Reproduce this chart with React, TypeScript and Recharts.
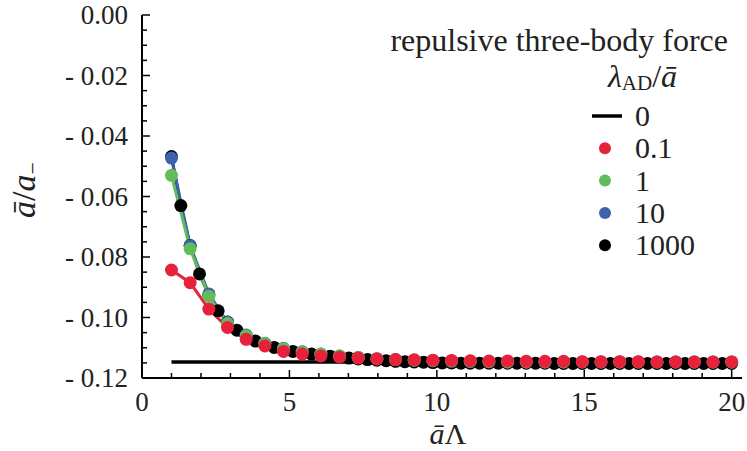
import { LineChart, Line, XAxis, YAxis } from 'recharts';

// grid of \bar a \Lambda values used by the coloured curves
const xCoarse = [
  1, 1.633, 2.267, 2.9, 3.533, 4.167, 4.8, 5.433, 6.067, 6.7, 7.333, 7.967, 8.6, 9.233, 9.867,
  10.5, 11.133, 11.767, 12.4, 13.033, 13.667, 14.3, 14.933, 15.567, 16.2, 16.833, 17.467, 18.1,
  18.733, 19.367, 20,
];

// finer grid used by the lambda = 1000 curve
const xFine = [
  1, 1.317, 1.633, 1.95, 2.267, 2.583, 2.9, 3.217, 3.533, 3.85, 4.167, 4.483, 4.8, 5.117, 5.433,
  5.75, 6.067, 6.383, 6.7, 7.017, 7.333, 7.65, 7.967, 8.283, 8.6, 8.917, 9.233, 9.55, 9.867,
  10.183, 10.5, 10.817, 11.133, 11.45, 11.767, 12.083, 12.4, 12.717, 13.033, 13.35, 13.667,
  13.983, 14.3, 14.617, 14.933, 15.25, 15.567, 15.883, 16.2, 16.517, 16.833, 17.15, 17.467,
  17.783, 18.1, 18.417, 18.733, 19.05, 19.367, 19.683, 20,
];

// lambda_AD / abar = 0.1
const yRed = [
  -0.0843, -0.0885, -0.0972, -0.1033, -0.1072, -0.1094, -0.1112, -0.1121, -0.1127, -0.1131,
  -0.1134, -0.1137, -0.1139, -0.114, -0.1141, -0.1142, -0.1143, -0.1144, -0.1144, -0.1145,
  -0.1145, -0.1145, -0.1146, -0.1146, -0.1146, -0.1146, -0.1147, -0.1147, -0.1147, -0.1147,
  -0.1147,
];

// lambda_AD / abar = 1
const yGreen = [
  -0.053, -0.0773, -0.093, -0.102, -0.106, -0.1086, -0.1103, -0.1114, -0.1121, -0.1127, -0.1132,
  -0.1136, -0.1139, -0.1141, -0.1143, -0.1144, -0.1145, -0.1146, -0.1147, -0.1147, -0.1147,
  -0.1147, -0.1147, -0.1147, -0.1147, -0.1147, -0.1147, -0.1147, -0.1147, -0.1147, -0.1147,
];

// lambda_AD / abar = 10
const yBlue = [
  -0.0473, -0.0763, -0.0922, -0.1016, -0.1058, -0.1085, -0.1102, -0.1113, -0.1121, -0.1127,
  -0.1132, -0.1136, -0.1139, -0.1141, -0.1143, -0.1144, -0.1145, -0.1146, -0.1147, -0.1147,
  -0.1147, -0.1147, -0.1147, -0.1147, -0.1147, -0.1147, -0.1147, -0.1147, -0.1147, -0.1147,
  -0.1147,
];

// lambda_AD / abar = 1000
const yBlack = [
  -0.0468, -0.063, -0.0762, -0.0856, -0.0925, -0.0978, -0.1015, -0.1042, -0.1062, -0.1078,
  -0.109, -0.1099, -0.1106, -0.1112, -0.1117, -0.1121, -0.1125, -0.1128, -0.1131, -0.1134,
  -0.1137, -0.1139, -0.1141, -0.1143, -0.1145, -0.1146, -0.1147, -0.1148, -0.1149, -0.115,
  -0.115, -0.1151, -0.1151, -0.1151, -0.1151, -0.1151, -0.1151, -0.1151, -0.1151, -0.1151,
  -0.1151, -0.1152, -0.1152, -0.1152, -0.1152, -0.1152, -0.1152, -0.1152, -0.1152, -0.1152,
  -0.1152, -0.1152, -0.1152, -0.1152, -0.1152, -0.1152, -0.1152, -0.1152, -0.1152, -0.1152,
  -0.1152,
];

// lambda_AD / abar = 0 (no three-body force)
const xZero = [1, 20];
const yZero = [-0.1147, -0.1147];

const xTicks = [0, 1, 2, 3, 4, 5, 6, 7, 8, 9, 10, 11, 12, 13, 14, 15, 16, 17, 18, 19, 20];
const xMajor = [0, 5, 10, 15, 20];
const yTicks = [
  0, -0.005, -0.01, -0.015, -0.02, -0.025, -0.03, -0.035, -0.04, -0.045, -0.05, -0.055, -0.06,
  -0.065, -0.07, -0.075, -0.08, -0.085, -0.09, -0.095, -0.1, -0.105, -0.11, -0.115, -0.12,
];
const yMajor = [0, -0.02, -0.04, -0.06, -0.08, -0.1, -0.12];

const RED = '#e8213b';
const GREEN = '#62bc5a';
const BLUE = '#3d62ae';
const BLACK = '#000000';
const FONT = 'Liberation Serif';
const serif = { fontFamily: FONT };

const toPoints = (xs: number[], ys: number[]) => xs.map((x, i) => ({ x, y: ys[i] }));

const isMajor = (v: number, list: number[]) => list.some((m) => Math.abs(m - v) < 1e-9);

const formatY = (v: number) => (v === 0 ? '0.00' : '- ' + Math.abs(v).toFixed(2));

// ticks point into the frame, like the original plot
function BottomTick({ x, y, payload }: any) {
  const major = isMajor(payload.value, xMajor);
  return (
    <g>
      <line x1={x} y1={y} x2={x} y2={y - (major ? 8 : 5)} stroke="#000" strokeWidth={1.5} />
      {major && (
        <text x={x} y={y + 33} textAnchor="middle" fontSize={27} style={serif} fill="#222">
          {payload.value}
        </text>
      )}
    </g>
  );
}

function TopTick({ x, y, payload }: any) {
  const major = isMajor(payload.value, xMajor);
  return <line x1={x} y1={y} x2={x} y2={y + (major ? 8 : 5)} stroke="#000" strokeWidth={1.5} />;
}

function LeftTick({ x, y, payload }: any) {
  const major = isMajor(payload.value, yMajor);
  return (
    <g>
      <line x1={x} y1={y} x2={x + (major ? 8 : 5)} y2={y} stroke="#000" strokeWidth={1.5} />
      {major && (
        <text x={x - 14} y={y} dy="0.35em" textAnchor="end" fontSize={27} style={serif} fill="#222">
          {formatY(payload.value)}
        </text>
      )}
    </g>
  );
}

function RightTick({ x, y, payload }: any) {
  const major = isMajor(payload.value, yMajor);
  return <line x1={x} y1={y} x2={x - (major ? 8 : 5)} y2={y} stroke="#000" strokeWidth={1.5} />;
}

const legendItems = [
  { label: '0', color: BLACK, line: true },
  { label: '0.1', color: RED, line: false },
  { label: '1', color: GREEN, line: false },
  { label: '10', color: BLUE, line: false },
  { label: '1000', color: BLACK, line: false },
];

function Overlay() {
  return (
    <svg
      width={747}
      height={451}
      style={{ position: 'absolute', left: 0, top: 0, pointerEvents: 'none', fontFamily: FONT }}
    >
      <text x={728} y={51} textAnchor="end" fontSize={32} fill="#222">
        repulsive three-body force
      </text>
      <text x={608} y={87} fontSize={32} fill="#222">
        <tspan fontStyle="italic">λ</tspan>
        <tspan fontSize={21} dy={3}>AD</tspan>
        <tspan dy={-3}>/</tspan>
        <tspan fontStyle="italic">ā</tspan>
      </text>
      {legendItems.map((item, i) => {
        const cy = 116 + i * 32.3;
        return (
          <g key={item.label}>
            {item.line ? (
              <line x1={592} x2={622} y1={cy} y2={cy} stroke={item.color} strokeWidth={3.5} />
            ) : (
              <circle cx={605} cy={cy} r={6} fill={item.color} />
            )}
            <text x={635} y={cy + 10} fontSize={30} fill="#222">
              {item.label}
            </text>
          </g>
        );
      })}
      <text x={448} y={444} textAnchor="middle" fontSize={30} fill="#222">
        <tspan fontStyle="italic">ā</tspan>
        <tspan>Λ</tspan>
      </text>
      <text transform="translate(35,190) rotate(-90)" textAnchor="middle" fontSize={34} fill="#222">
        <tspan fontStyle="italic">ā</tspan>
        <tspan>/</tspan>
        <tspan fontStyle="italic">a</tspan>
        <tspan fontSize={22} dy={5}>−</tspan>
      </text>
    </svg>
  );
}

export default function App() {
  const dot = (color: string) => ({ r: 6.5, fill: color, stroke: 'none', strokeWidth: 0 });
  const frame = { stroke: '#000', strokeWidth: 2 };

  return (
    <div
      style={{ position: 'absolute', left: 0, top: 0, width: 747, height: 451, background: '#fff', fontFamily: FONT }}
    >
      <LineChart width={747} height={451} margin={{ top: 15, right: 5, bottom: 0, left: 0 }}>
        <XAxis
          xAxisId="b"
          dataKey="x"
          type="number"
          domain={[0, 20.35]}
          allowDataOverflow
          ticks={xTicks}
          interval={0}
          height={73}
          tickSize={0}
          tickMargin={0}
          tickLine={false}
          axisLine={frame}
          tick={<BottomTick />}
        />
        <XAxis
          xAxisId="t"
          orientation="top"
          dataKey="x"
          type="number"
          domain={[0, 20.35]}
          allowDataOverflow
          ticks={xTicks}
          interval={0}
          height={0}
          tickSize={0}
          tickMargin={0}
          tickLine={false}
          axisLine={frame}
          tick={<TopTick />}
        />
        <YAxis
          yAxisId="l"
          type="number"
          domain={[-0.12, 0]}
          allowDataOverflow
          ticks={yTicks}
          interval={0}
          width={142}
          tickSize={0}
          tickMargin={0}
          tickLine={false}
          axisLine={frame}
          tick={<LeftTick />}
        />
        <YAxis
          yAxisId="r"
          orientation="right"
          type="number"
          domain={[-0.12, 0]}
          allowDataOverflow
          ticks={yTicks}
          interval={0}
          width={0}
          tickSize={0}
          tickMargin={0}
          tickLine={false}
          axisLine={frame}
          tick={<RightTick />}
        />

        <Line
          xAxisId="b"
          yAxisId="l"
          data={toPoints(xZero, yZero)}
          dataKey="y"
          type="linear"
          stroke={BLACK}
          strokeWidth={3.5}
          dot={false}
          isAnimationActive={false}
        />
        <Line
          xAxisId="b"
          yAxisId="l"
          data={toPoints(xFine, yBlack)}
          dataKey="y"
          type="linear"
          stroke={BLACK}
          strokeWidth={3}
          dot={dot(BLACK)}
          isAnimationActive={false}
        />
        <Line
          xAxisId="b"
          yAxisId="l"
          data={toPoints(xCoarse, yBlue)}
          dataKey="y"
          type="linear"
          stroke={BLUE}
          strokeWidth={3}
          dot={dot(BLUE)}
          isAnimationActive={false}
        />
        <Line
          xAxisId="b"
          yAxisId="l"
          data={toPoints(xCoarse, yGreen)}
          dataKey="y"
          type="linear"
          stroke={GREEN}
          strokeWidth={3}
          dot={dot(GREEN)}
          isAnimationActive={false}
        />
        <Line
          xAxisId="b"
          yAxisId="l"
          data={toPoints(xCoarse, yRed)}
          dataKey="y"
          type="linear"
          stroke={RED}
          strokeWidth={3}
          dot={dot(RED)}
          isAnimationActive={false}
        />
      </LineChart>
      <Overlay />
    </div>
  );
}
